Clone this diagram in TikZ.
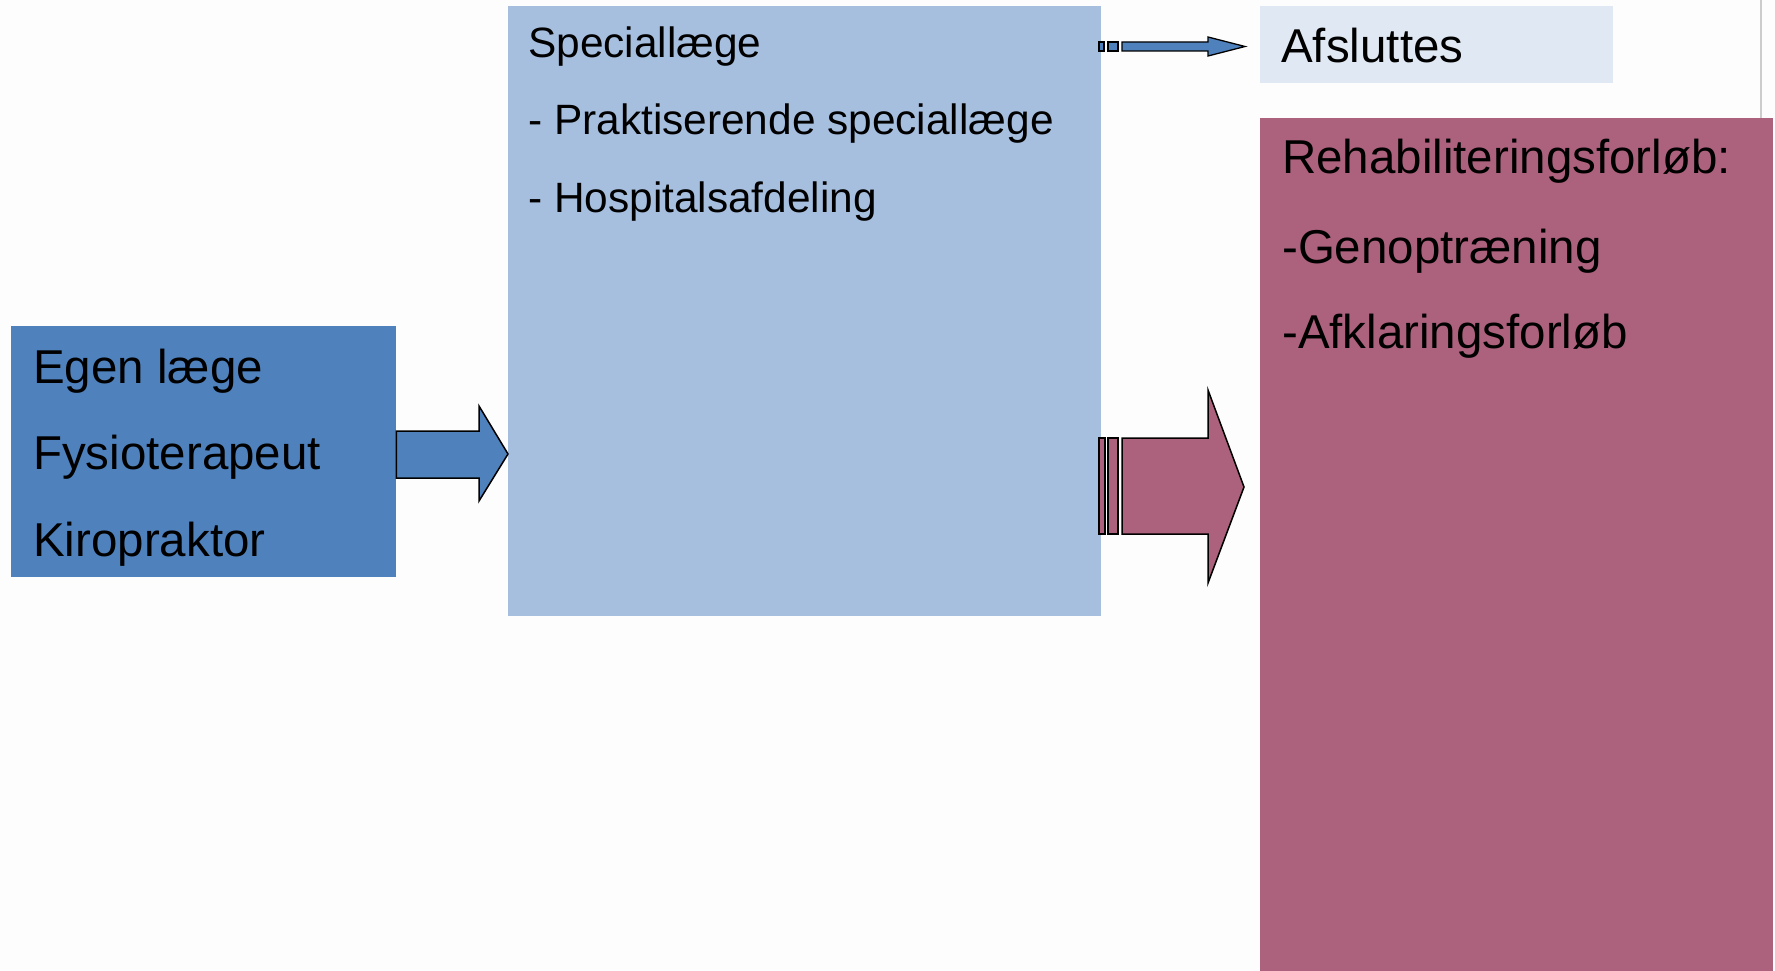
\documentclass[tikz,border=0pt]{standalone}
\usepackage{fontspec}
\setmainfont{Liberation Sans}
\definecolor{bgc}{HTML}{FDFDFD}
\definecolor{darkblue}{HTML}{4F81BD}
\definecolor{lightblue}{HTML}{A7BFDF}
\definecolor{paleblue}{HTML}{E0E8F3}
\definecolor{rose}{HTML}{AC617D}
\definecolor{greyline}{HTML}{CCCCCC}
\begin{document}
\begin{tikzpicture}[x=1pt,y=-1pt,
  box/.style={rectangle,draw=none,inner sep=0pt,anchor=north west},
  bigtxt/.style={anchor=base west,inner sep=0pt,font=\fontsize{47.5}{57}\selectfont},
  midtxt/.style={anchor=base west,inner sep=0pt,font=\fontsize{42.4}{50}\selectfont},
  arr/.style={draw=black,line width=1.5pt,line join=miter}]
\fill[bgc] (0,0) rectangle (1775,971);
\useasboundingbox (0,0) rectangle (1775,971);
% boxes
\node[box,fill=darkblue,minimum width=385pt,minimum height=251pt] (left) at (11,326) {};
\node[box,fill=lightblue,minimum width=593pt,minimum height=610pt] (mid) at (508,6) {};
\node[box,fill=paleblue,minimum width=353pt,minimum height=77pt] (afs) at (1260,6) {};
\node[box,fill=rose,minimum width=513pt,minimum height=853pt] (reh) at (1260,118) {};
\draw[greyline,line width=2pt] (1761,0) -- (1761,118);
% texts
\node[bigtxt] (t1) at (33,383) {Egen læge};
\node[bigtxt] (t2) at (33,469) {Fysioterapeut};
\node[bigtxt] (t3) at (33,556) {Kiropraktor};
\node[midtxt] (m1) at (528,58) {Speciallæge};
\node[midtxt] (m2) at (528,135) {- Praktiserende speciallæge};
\node[midtxt] (m3) at (528,212) {- Hospitalsafdeling};
\node[bigtxt] (a1) at (1281,63) {Afsluttes};
\node[bigtxt] (r1) at (1282,174) {Rehabiliteringsforløb:};
\node[bigtxt] (r2) at (1282,263) {-Genoptræning};
\node[bigtxt] (r3) at (1282,348) {-Afklaringsforløb};
% blue block arrow left -> mid
\draw[arr,fill=darkblue] (left.east |- 0,431) -- (479,431) -- (479,406) -- (mid.west |- 0,454)
  -- (479,501) -- (479,478) -- (left.east |- 0,478) -- cycle;
% small striped arrow mid -> afs
\draw[arr,fill=darkblue,line width=1.3pt] (1099,42) rectangle (1104,51);
\draw[arr,fill=darkblue,line width=1.3pt] (1108,42) rectangle (1118,51);
\draw[arr,fill=darkblue,line width=1.3pt] (1122,42) -- (1208,42) -- (1208,37) -- (1245,46.5)
  -- (1208,56) -- (1208,51) -- (1122,51) -- cycle;
% pink striped arrow mid -> reh
\draw[arr,fill=rose] (1099,438) rectangle (1105,534);
\draw[arr,fill=rose] (1108,438) rectangle (1118,534);
\draw[arr,fill=rose] (1122,438) -- (1208,438) -- (1208,390) -- (1244,487)
  -- (1208,583) -- (1208,534) -- (1122,534) -- cycle;
\end{tikzpicture}
\end{document}
